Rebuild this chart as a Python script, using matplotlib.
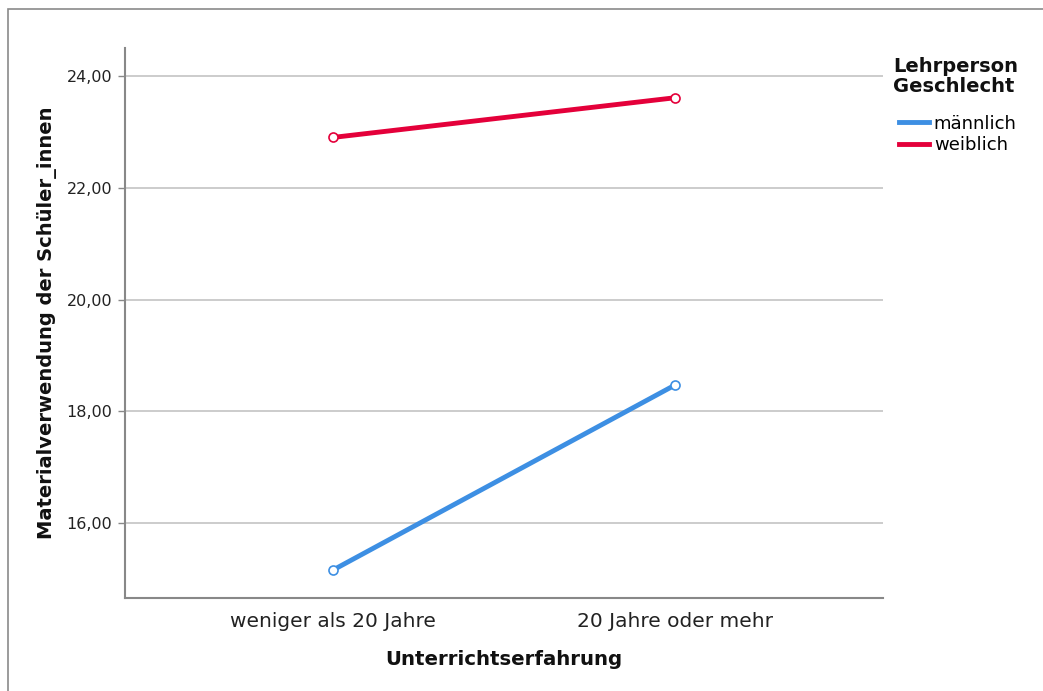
import matplotlib
matplotlib.use("Agg")
import matplotlib.pyplot as plt
from matplotlib.lines import Line2D
from matplotlib.patches import Rectangle

categories = ["weniger als 20 Jahre", "20 Jahre oder mehr"]
maennlich = [15.16, 18.47]
weiblich = [22.90, 23.61]
series_names = ["männlich", "weiblich"]
yticks = [16, 18, 20, 22, 24]
ytick_labels = ["16,00", "18,00", "20,00", "22,00", "24,00"]

blue = "#3d8fe3"
red = "#e4003a"

W, H = 1043, 691
fig = plt.figure(figsize=(W / 100, H / 100), dpi=100)
fig.patch.set_facecolor("white")

# outer frame (only top/left visible in reference)
fig.add_artist(Rectangle((8 / W, -0.1), 1.2, (H - 9) / H + 0.1, transform=fig.transFigure,
                         fill=False, edgecolor="#8a8a8a", linewidth=1.2))

ax = fig.add_axes([125 / W, (H - 598) / H, (883 - 125) / W, (598 - 48) / H])
x = list(range(len(categories)))
for vals, col, name in [(maennlich, blue, series_names[0]), (weiblich, red, series_names[1])]:
    ax.plot(x, vals, color=col, linewidth=3.5, solid_capstyle="butt", zorder=3)
    ax.plot(x, vals, linestyle="none", marker="o", markersize=6.5, markerfacecolor="white",
            markeredgecolor=col, markeredgewidth=1.2, zorder=4)

ax.set_xlim(-0.608, 1.608)
ax.set_ylim(14.66, 24.5)
ax.set_yticks(yticks)
ax.set_yticklabels(ytick_labels)
ax.set_xticks(x)
ax.set_xticklabels(categories, fontsize=14.5, color="#222222")
ax.tick_params(axis="y", labelsize=11.5, colors="#222222", length=5, width=1.0, pad=4)
ax.tick_params(axis="y", color="#888888")
ax.tick_params(axis="x", length=0, pad=10)
ax.grid(axis="y", color="#c8c8c8", linewidth=1.3)
ax.set_axisbelow(True)
for s in ["top", "right"]:
    ax.spines[s].set_visible(False)
for s in ["left", "bottom"]:
    ax.spines[s].set_color("#888888")
    ax.spines[s].set_linewidth(1.5)

ax.set_xlabel("Unterrichtserfahrung", fontsize=14.2, fontweight="bold", labelpad=14, color="#111111")
ax.set_ylabel("Materialverwendung der Schüler_innen", fontsize=14, fontweight="bold", labelpad=7,
              color="#111111")

# legend
fig.text(893 / W, 1 - 57 / H, "Lehrperson\nGeschlecht", fontsize=14, fontweight="bold",
         va="top", ha="left", linespacing=1.05, color="#111111")
handles = [Line2D([0], [0], color=blue, linewidth=3.5), Line2D([0], [0], color=red, linewidth=3.5)]
fig.legend(handles, series_names, loc="upper left", bbox_to_anchor=(895 / W, 1 - 111 / H),
           frameon=False, fontsize=13, handlelength=1.7, handletextpad=0.25, labelspacing=0.2,
           borderpad=0.2, borderaxespad=0)

fig.savefig("out.png", dpi=100, facecolor="white")
